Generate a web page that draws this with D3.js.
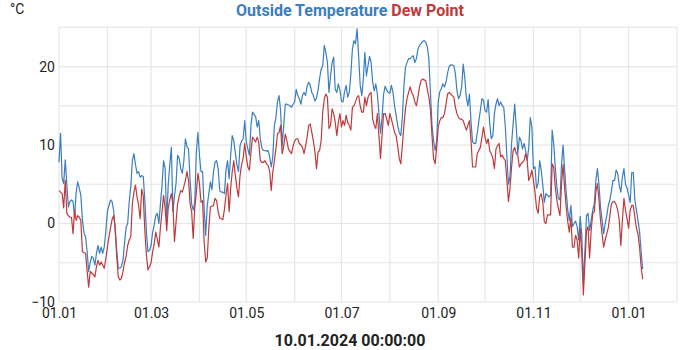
<!DOCTYPE html>
<html>
<head>
<meta charset="utf-8">
<script src="https://cdn.jsdelivr.net/npm/d3@7/dist/d3.min.js"></script>
<style>
  html, body { margin: 0; padding: 0; background: #fff; }
  svg { display: block; }
  text { font-family: Roboto, "Noto Sans", sans-serif; }
</style>
</head>
<body>
<svg id="chart" width="700" height="350"></svg>
<script>
// ---- data (daily values, 2023-01-01 .. 2024-01-10) ----
const startDate = "2023-01-01";
const seriesNames = ["Outside Temperature", "Dew Point"];
const seriesColors = ["#3a7ebf", "#c0393b"];
const yTickValues = [-10, 0, 10, 20];
const xLabelTitle = "10.01.2024 00:00:00";
const unitLabel = "°C";

const outsideTemp = [
  7.8, 11.5, 5.8, 5.1, 8.1, 5.0, 2.1, 2.8, 3.0, 2.8,
  0.8, 4.0, 5.3, 4.5, 3.6, 0.5, -1.2, -1.7, -3.5, -6.1,
  -5.0, -4.2, -4.4, -5.3, -3.8, -2.8, -3.8, -3.0, -3.8, -3.0,
  -1.0, 1.5, 2.3, 3.0, 2.8, 1.7, -1.0, -3.5, -5.7, -5.7,
  -5.5, -4.7, -2.5, -0.5, 0.0, 2.8, 4.7, 8.0, 8.9, 7.5,
  6.4, 6.6, 5.9, 6.1, 6.0, 3.0, -1.0, -3.6, -3.4, -2.8,
  -1.1, -0.2, 1.0, 1.3, 0.0, 2.5, 4.8, 8.0, 7.0, 0.2,
  5.0, 7.5, 9.7, 1.5, 3.5, 5.1, 8.7, 8.3, 7.0, 6.4,
  8.0, 10.8, 9.8, 9.5, 5.5, 2.5, 1.7, 2.7, 9.1, 11.6,
  8.7, 6.6, 6.6, 1.9, -1.5, 2.3, 3.8, 5.3, 4.3, 6.6,
  7.8, 8.0, 7.0, 4.2, 4.0, 4.0, 3.8, 6.8, 8.0, 5.7,
  8.7, 11.2, 10.6, 9.0, 7.5, 6.6, 9.9, 10.5, 10.8, 13.1,
  10.4, 9.5, 8.7, 12.5, 14.2, 13.9, 13.6, 12.3, 13.1, 10.8,
  9.6, 9.3, 9.3, 9.2, 9.3, 8.5, 7.2, 8.5, 12.5, 13.5,
  15.5, 16.3, 14.4, 9.9, 12.5, 15.2, 15.2, 15.1, 15.0, 14.8,
  15.2, 15.5, 17.1, 16.3, 15.9, 15.2, 16.3, 16.7, 16.3, 17.5,
  18.0, 17.6, 16.7, 16.3, 15.6, 16.0, 17.0, 18.5, 19.7, 20.1,
  22.7, 21.8, 20.5, 16.7, 18.8, 20.5, 21.2, 17.1, 16.7, 17.8,
  17.0, 15.6, 15.5, 16.8, 17.6, 16.1, 16.7, 19.0, 22.2, 23.3,
  22.9, 24.8, 21.4, 17.6, 16.3, 18.4, 21.8, 18.8, 20.1, 21.3,
  20.5, 18.0, 16.9, 17.8, 16.5, 14.0, 11.5, 13.5, 16.5, 17.5,
  17.0, 16.7, 16.6, 17.6, 16.7, 15.0, 13.8, 12.5, 11.6, 11.2,
  13.5, 17.5, 19.9, 20.5, 21.0, 21.0, 21.2, 21.4, 20.5, 21.0,
  22.2, 22.7, 22.9, 23.2, 23.3, 23.1, 22.5, 21.0, 16.7, 12.5,
  10.6, 9.3, 10.5, 15.5, 16.8, 17.2, 17.8, 17.4, 18.0, 19.2,
  20.0, 20.2, 20.2, 20.1, 19.1, 16.9, 15.9, 16.3, 17.4, 20.3,
  18.6, 16.1, 15.0, 16.5, 13.0, 10.4, 10.2, 10.2, 11.5, 13.0,
  14.4, 15.9, 15.7, 14.4, 14.2, 15.8, 12.7, 10.8, 11.2, 14.0,
  15.2, 15.9, 15.0, 15.5, 15.0, 14.8, 12.3, 8.5, 5.0, 6.0,
  10.2, 12.7, 15.2, 12.3, 8.9, 11.0, 10.6, 9.5, 10.2, 9.3,
  8.0, 9.7, 13.5, 12.3, 7.0, 7.2, 4.5, 5.1, 8.0, 6.8,
  4.9, 2.7, 3.8, 3.6, 3.4, 3.6, 11.9, 10.2, 7.2, 4.7,
  3.2, 3.0, 7.5, 10.0, 6.8, 4.0, 1.7, 0.4, 2.3, -0.4,
  0.0, 0.3, -0.4, -2.1, 0.9, -1.5, -7.5, -3.5, 1.0, 1.3,
  -0.9, 0.4, 1.7, 2.5, 5.5, 7.0, 5.0, 2.1, 0.4, -1.3,
  0.0, 1.0, 2.3, 3.0, 4.2, 5.5, 5.5, 6.8, 6.4, 4.9,
  4.0, 5.9, 7.0, 5.0, 4.5, 3.6, 2.7, 6.5, 6.5, 3.0,
  1.7, 0.4, -1.0, -3.5, -5.8
];

const dewPoint = [
  4.2, 4.0, 3.8, 2.0, 5.5, 1.3, 1.0, 0.8, 0.8, -1.3,
  1.7, 0.4, 1.0, 0.8, 0.4, -3.6, -3.7, -3.8, -6.0, -8.1,
  -6.1, -6.3, -6.5, -6.8, -5.5, -4.7, -5.3, -4.9, -5.3, -5.7,
  -4.5, -3.0, -1.7, -0.6, 0.5, 1.0, -0.4, -4.2, -6.8, -7.2,
  -7.0, -6.1, -5.0, -4.2, -2.8, -2.1, -1.7, 2.5, 4.0, 4.9,
  3.4, 2.3, 0.6, 4.4, 3.5, -0.9, -4.0, -5.9, -5.5, -5.0,
  -3.6, -2.6, -1.1, -2.0, -3.0, -0.5, 1.5, 3.6, 2.0, -0.9,
  2.0, 3.0, 3.8, 2.4, -2.3, 0.2, 2.5, 3.5, 4.2, 4.0,
  4.7, 5.5, 6.6, 5.5, 2.5, 1.5, -1.9, 2.0, 4.0, 6.4,
  5.1, 2.7, 2.9, -2.3, -4.9, -4.4, -0.6, 2.1, 2.2, 2.3,
  3.2, 2.9, 1.5, 0.7, 0.6, 0.5, 1.8, 3.6, 5.1, 1.5,
  4.5, 6.6, 8.0, 6.1, 4.5, 3.4, 6.1, 7.5, 8.3, 10.2,
  8.5, 7.2, 6.8, 9.1, 11.0, 10.7, 10.4, 11.0, 10.4, 8.0,
  7.8, 7.8, 8.0, 7.6, 7.4, 6.6, 4.2, 6.6, 8.0, 9.5,
  11.4, 11.6, 12.5, 8.9, 9.9, 11.4, 10.6, 9.5, 9.2, 8.9,
  9.9, 10.5, 10.8, 10.8, 10.2, 10.0, 9.7, 8.9, 9.9, 11.0,
  12.5, 12.7, 11.6, 10.5, 9.1, 7.0, 9.1, 9.3, 10.6, 14.2,
  15.9, 16.5, 16.1, 12.1, 12.5, 14.6, 14.0, 12.9, 11.2, 12.9,
  14.0, 12.3, 13.1, 12.5, 13.8, 12.9, 12.5, 11.9, 14.8, 15.0,
  15.5, 16.1, 16.3, 15.0, 14.2, 14.2, 16.1, 15.0, 16.1, 16.5,
  16.7, 13.3, 12.5, 12.1, 14.0, 11.2, 8.3, 11.2, 14.0, 14.0,
  13.3, 12.5, 14.0, 13.3, 12.5, 11.6, 11.2, 9.9, 8.3, 7.6,
  9.9, 12.5, 14.6, 15.9, 16.7, 17.4, 16.7, 16.3, 15.5, 15.0,
  16.1, 17.4, 18.2, 18.4, 18.3, 18.2, 17.1, 16.1, 14.6, 11.2,
  8.3, 7.6, 9.7, 12.3, 13.1, 13.5, 13.5, 14.0, 15.2, 16.5,
  16.7, 16.5, 16.3, 16.1, 14.8, 14.0, 13.5, 13.3, 13.3, 13.1,
  12.5, 11.9, 12.5, 13.1, 10.6, 7.2, 7.2, 7.2, 8.9, 9.3,
  9.7, 11.0, 12.3, 11.0, 10.2, 10.8, 9.3, 8.9, 8.3, 7.0,
  9.5, 9.9, 10.2, 8.5, 8.7, 8.3, 8.0, 5.5, 2.8, 4.5,
  7.2, 9.3, 9.7, 8.9, 8.7, 7.2, 7.6, 7.8, 8.0, 8.9,
  8.0, 5.5, 6.0, 6.8, 5.5, 4.0, 2.0, 1.3, 3.4, 3.8,
  2.7, 0.2, 0.0, 1.1, 1.1, 1.1, 7.6, 7.2, 4.7, 3.0,
  1.9, 1.0, 5.0, 7.5, 4.5, 2.1, 0.2, -1.1, 0.8, -3.0,
  -3.0, -1.5, -2.1, -4.4, -0.6, -3.8, -9.1, -5.1, -0.9, -0.4,
  -4.4, -0.9, 1.3, 1.5, 4.0, 5.1, 3.0, 0.4, -1.3, -3.0,
  -2.1, -1.3, -0.5, 1.0, 2.5, 2.8, 2.8, 2.4, 1.7, 0.4,
  -2.8, 0.4, 3.2, 1.7, 0.6, -0.6, 1.7, 2.3, 2.3, 0.8,
  -0.6, -1.3, -3.0, -5.5, -7.1
];

// ---- chart ----
const W = 700, H = 350;
const margin = { left: 59, right: 23, top: 27.3, bottom: 48 };
const svg = d3.select("#chart");

const t0 = d3.isoParse(startDate + "T00:00:00");
const start = new Date(t0.getFullYear(), t0.getMonth(), t0.getDate());
const dateAt = i => d3.timeDay.offset(start, i);

const x = d3.scaleTime()
  .domain([start, new Date(2024, 1, 1)])
  .range([margin.left, W - margin.right]);
const y = d3.scaleLinear()
  .domain([-10, 25])
  .range([H - margin.bottom, margin.top]);

const grid = svg.append("g").attr("stroke", "#e6e6e6").attr("stroke-width", 1.2);
// vertical monthly gridlines
grid.selectAll("line.v")
  .data(d3.timeMonth.range(start, d3.timeDay.offset(new Date(2024, 1, 1), 1)))
  .join("line")
  .attr("x1", d => x(d)).attr("x2", d => x(d))
  .attr("y1", y(25)).attr("y2", y(-10));
// horizontal gridlines every 5
grid.selectAll("line.h")
  .data(d3.range(-10, 26, 5))
  .join("line")
  .attr("x1", x.range()[0]).attr("x2", x.range()[1])
  .attr("y1", d => y(d)).attr("y2", d => y(d));

// lines
const line = d3.line()
  .x((d, i) => x(dateAt(i)))
  .y(d => y(d));

[outsideTemp, dewPoint].forEach((s, k) => {
  svg.append("path")
    .datum(s)
    .attr("fill", "none")
    .attr("stroke", seriesColors[k])
    .attr("stroke-width", 1.2)
    .attr("stroke-linejoin", "round")
    .attr("d", line);
});

// y axis (labels only)
const yAxis = d3.axisLeft(y).tickValues(yTickValues).tickSize(0).tickPadding(4);
const gy = svg.append("g").attr("transform", `translate(${margin.left},0)`).call(yAxis);
gy.select(".domain").remove();
gy.selectAll("text").attr("font-size", 14).attr("fill", "#222").attr("font-family", "Roboto");

// x axis (labels only)
const xAxis = d3.axisBottom(x)
  .ticks(d3.timeMonth.every(2))
  .tickFormat(d3.timeFormat("%d.%m"))
  .tickSize(0).tickPadding(6);
const gx = svg.append("g").attr("transform", `translate(0,${H - margin.bottom})`).call(xAxis);
gx.select(".domain").remove();
gx.selectAll("text").attr("font-size", 14).attr("fill", "#222").attr("font-family", "Roboto");

// unit label
svg.append("text").attr("x", 10).attr("y", 13.5)
  .attr("font-size", 14).attr("fill", "#222").text(unitLabel);

// title
const title = svg.append("text").attr("x", W / 2).attr("y", 16)
  .attr("text-anchor", "middle").attr("font-size", 16).attr("font-weight", "bold");
seriesNames.forEach((n, k) => {
  title.append("tspan").attr("fill", seriesColors[k]).text((k ? " " : "") + n);
});

// bottom label
svg.append("text").attr("x", W / 2).attr("y", 346)
  .attr("text-anchor", "middle").attr("font-size", 16).attr("font-weight", "bold")
  .attr("fill", "#222").text(xLabelTitle);
</script>
</body>
</html>
